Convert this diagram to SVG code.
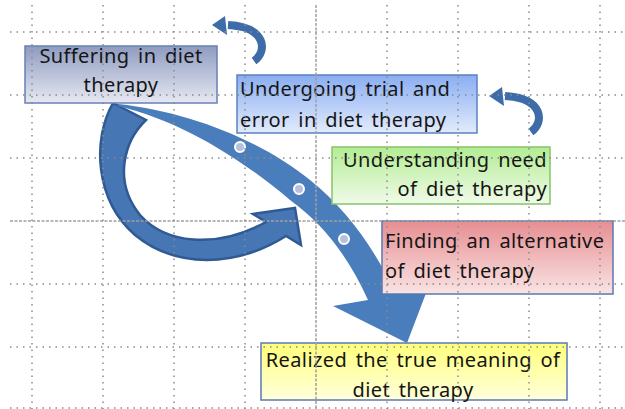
<svg xmlns="http://www.w3.org/2000/svg" width="625" height="409" viewBox="0 0 625 409">
<defs>
<linearGradient id="g1" x1="0" y1="0" x2="0" y2="1"><stop offset="0" stop-color="#8f9bc0"/><stop offset="1" stop-color="#e6e9f2"/></linearGradient>
<linearGradient id="g2" x1="0" y1="0" x2="0" y2="1"><stop offset="0" stop-color="#8aaef2"/><stop offset="1" stop-color="#e2ebfc"/></linearGradient>
<linearGradient id="g3" x1="0" y1="0" x2="0" y2="1"><stop offset="0" stop-color="#b3ec93"/><stop offset="1" stop-color="#f0fbe9"/></linearGradient>
<linearGradient id="g4" x1="0" y1="0" x2="0" y2="1"><stop offset="0" stop-color="#e68e92"/><stop offset="1" stop-color="#fae4e4"/></linearGradient>
<linearGradient id="g5" x1="0" y1="0" x2="0" y2="1"><stop offset="0" stop-color="#ffff7a"/><stop offset="1" stop-color="#ffffdc"/></linearGradient>
<g id="smallArrow">
<path d="M0,0 C14,-10 12,-34 -26,-36" fill="none" stroke="#3e6ca8" stroke-width="8"/>
<polygon points="-42,-36 -29,-45 -27,-26" fill="#3e6ca8"/>
</g>
</defs>
<style>
.box{stroke-width:1.5}
.t{font-family:"Noto Sans","Liberation Sans",sans-serif;font-size:20px;fill:#151515;letter-spacing:0.4px;word-spacing:3px}
.grid{stroke:#8a8a8a;stroke-width:1.5;stroke-dasharray:1.5 5;fill:none}
.dash{stroke:#a0a0a0;stroke-width:1.5;stroke-dasharray:3 1.5;fill:none}
.dot{fill:#b5c2df;stroke:#ffffff;stroke-width:2}
</style>
<rect width="625" height="409" fill="#ffffff"/>
<g id="connectors">
<path id="loop" d="M113,103 L146,120 C125,140 112,180 140,215 C165,243 215,250 266,222 L253,214 L295,208 L301,245 L286,236 C235,268 175,268 135,235 C95,200 92,140 113,103 Z" fill="#4676b4" stroke="#2f5a94" stroke-width="2.5"/>
<path id="sweep" d="M118,104 C190,112 260,140 310,180 C345,208 372,245 393,288 L428,288 L407,343 L333,306 L368,300 C350,260 325,225 290,200 C245,162 185,122 118,106 Z" fill="#4a7dbb"/>
<circle class="dot" cx="240" cy="147" r="5"/>
<circle class="dot" cx="299" cy="189" r="5"/>
<circle class="dot" cx="344" cy="239" r="5"/>
<use href="#smallArrow" transform="translate(254,61)"/>
<use href="#smallArrow" transform="translate(531,132)"/>
</g>
<g id="node1">
<rect class="box" x="25" y="46" width="192" height="57" fill="url(#g1)" stroke="#6a80b4"/>
<text class="t" x="121" y="63" text-anchor="middle">Suffering in diet</text>
<text class="t" x="121" y="92" text-anchor="middle">therapy</text>
</g>
<g id="node2">
<rect class="box" x="237" y="75" width="240" height="58" fill="url(#g2)" stroke="#5a82c0"/>
<text class="t" x="240" y="96">Undergoing trial and</text>
<text class="t" x="240" y="127">error in diet therapy</text>
</g>
<g id="node3">
<rect class="box" x="332" y="147" width="218" height="57" fill="url(#g3)" stroke="#86c46a"/>
<text class="t" x="547" y="167" text-anchor="end">Understanding need</text>
<text class="t" x="547" y="196" text-anchor="end">of diet therapy</text>
</g>
<g id="node4">
<rect class="box" x="382" y="221" width="231" height="73" fill="url(#g4)" stroke="#5a78b4"/>
<text class="t" x="385" y="248">Finding an alternative</text>
<text class="t" x="385" y="278">of diet therapy</text>
</g>
<g id="node5">
<rect class="box" x="261" y="343" width="306" height="57" fill="url(#g5)" stroke="#5a7ab4"/>
<text class="t" x="413" y="367" text-anchor="middle">Realized the true meaning of</text>
<text class="t" x="413" y="397" text-anchor="middle">diet therapy</text>
</g>
<g id="grid">
<path class="grid" d="M10,32H625M10,95H625M10,158H625M10,284H625M10,347H625M10,408H625"/>
<path class="dash" d="M10,221H625"/>
<path class="grid" d="M32,5V409M103,5V409M174,5V409M245,5V409M387,5V409M458,5V409M529,5V409M600,5V409"/>
<path class="dash" d="M316,5V409"/>
</g>
</svg>
